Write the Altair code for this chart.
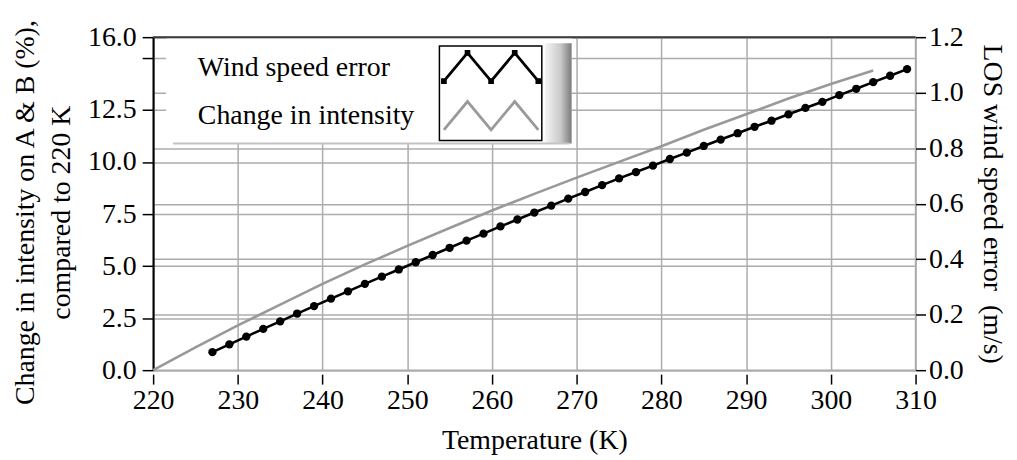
import altair as alt
import pandas as pd

# ---------------- data ----------------
temp_intensity = [220, 225, 230, 235, 240, 245, 250, 255, 260, 265, 270, 275, 280, 285, 290, 295, 300, 305]
intensity_change = [0.0, 1.1, 2.15, 3.15, 4.15, 5.08, 5.97, 6.83, 7.67, 8.47, 9.25, 10.01, 10.76, 11.55, 12.3, 13.05, 13.75, 14.4]

temp_wind = [227, 229, 231, 233, 235, 237, 239, 241, 243, 245, 247, 249, 251, 253,
             255, 257, 259, 261, 263, 265, 267, 269, 271, 273, 275, 277, 279, 281,
             283, 285, 287, 289, 291, 293, 295, 297, 299, 301, 303, 305, 307, 309]
wind_error = [0.065, 0.093, 0.121, 0.149, 0.176, 0.204, 0.231, 0.258, 0.284, 0.311, 0.337, 0.363, 0.389, 0.415,
              0.441, 0.467, 0.492, 0.518, 0.543, 0.568, 0.593, 0.618, 0.642, 0.667, 0.691, 0.714, 0.737, 0.761,
              0.784, 0.808, 0.831, 0.854, 0.877, 0.899, 0.922, 0.945, 0.967, 0.991, 1.014, 1.038, 1.061, 1.085]

x_ticks = [220, 230, 240, 250, 260, 270, 280, 290, 300, 310]
left_ticks = [0, 2.5, 5, 7.5, 10, 12.5, 15, 16]
right_ticks = [0, 0.2, 0.4, 0.6, 0.8, 1.0, 1.2]
legend_labels = ["Wind speed error", "Change in intensity"]

x_title = "Temperature (K)"
left_title = ["Change in intensity on A & B (%),", "compared to 220 K"]
right_title = "LOS wind speed error\u00a0 (m/s)"

# ---------------- styling ----------------
W, H = 767, 335
FONT = "Liberation Serif"
FS = 28
GRID = "#acacac"

df_int = pd.DataFrame({"T": temp_intensity, "I": intensity_change})
df_wind = pd.DataFrame({"T": temp_wind, "E": wind_error})
one = pd.DataFrame({"k": [0]})

x_scale = alt.Scale(domain=[220, 310], nice=False, zero=False)
x_axis = alt.Axis(values=x_ticks, offset=4, domain=False, tickSize=10, tickColor="black",
                  tickWidth=1.5, labelPadding=3, labelFlush=False, labelOverlap=False,
                  format="d", grid=True, gridColor=GRID, gridWidth=1.5,
                  title=x_title, titlePadding=12)

gray_line = alt.Chart(df_int).mark_line(color="#999999", strokeWidth=2.6).encode(
    x=alt.X("T:Q", scale=x_scale, axis=x_axis),
    y=alt.Y("I:Q", scale=alt.Scale(domain=[0, 16], nice=False, zero=True),
            axis=alt.Axis(orient="left", values=left_ticks,
                          labelExpr="datum.value == 15 ? '' : format(datum.value, '.1f')",
                          domain=True, domainColor="black", domainWidth=2,
                          tickSize=11, tickColor="black", tickWidth=1.5,
                          labelPadding=6, labelFlush=False, labelOverlap=False,
                          grid=True, gridColor=GRID, gridWidth=1.5,
                          title=left_title, titlePadding=12, titleLineHeight=36,
                          titleY=176)),
)

black_line = alt.Chart(df_wind).mark_line(
    color="black", strokeWidth=2.6,
    point=alt.OverlayMarkDef(filled=True, size=70, color="black", opacity=1),
).encode(
    x=alt.X("T:Q", scale=x_scale, axis=x_axis),
    y=alt.Y("E:Q", scale=alt.Scale(domain=[0, 1.2], nice=False, zero=True),
            axis=alt.Axis(orient="right", values=right_ticks, format=".1f",
                          domain=False, tickSize=10, tickColor="black", tickWidth=1.5,
                          labelPadding=3, labelFlush=False, labelOverlap=False,
                          grid=True, gridColor=GRID, gridWidth=1.5,
                          title=right_title, titlePadding=14)),
)

# ---------------- in-plot legend box (decoration) ----------------
legend_bg = alt.Chart(one).mark_rect(fill="white", strokeWidth=0).encode(
    x=alt.value(13), x2=alt.value(421), y=alt.value(1), y2=alt.value(107))

legend_shade = alt.Chart(one).mark_rect(
    strokeWidth=0,
    fill=alt.Gradient(gradient="linear",
                      stops=[alt.GradientStop(color="#f6f6f6", offset=0),
                             alt.GradientStop(color="#c8c8c8", offset=0.6),
                             alt.GradientStop(color="#7a7a7a", offset=1)],
                      x1=0, x2=1, y1=0, y2=0),
).encode(x=alt.value(394), x2=alt.value(421), y=alt.value(6), y2=alt.value(107))

legend_shadow = alt.Chart(one).mark_rule(color="#c4c4c4", strokeWidth=2).encode(
    x=alt.value(20), x2=alt.value(419), y=alt.value(107))

sample_frame = alt.Chart(one).mark_rect(fill="white", stroke="black", strokeWidth=1.5).encode(
    x=alt.value(288), x2=alt.value(391), y=alt.value(9), y2=alt.value(104))

zig = "M-1,0.3L-0.5,-0.3L0,0.3L0.5,-0.3L1,0.3"
sq = ""
for vx, vy in [(-1, 0.3), (-0.5, -0.3), (0, 0.3), (0.5, -0.3), (1, 0.3)]:
    sq += f"M{vx-0.06},{vy-0.06}h0.12v0.12h-0.12Z"

sample_black = alt.Chart(one).mark_point(shape=zig, size=9025, filled=False, stroke="black",
                                         strokeWidth=2.8, opacity=1).encode(
    x=alt.value(340), y=alt.value(30))
sample_black_sq = alt.Chart(one).mark_point(shape=sq, size=9025, filled=True, fill="black",
                                            strokeWidth=0, opacity=1).encode(
    x=alt.value(340), y=alt.value(30))
sample_gray = alt.Chart(one).mark_point(shape=zig, size=9025, filled=False, stroke="#9a9a9a",
                                        strokeWidth=2.8, opacity=1).encode(
    x=alt.value(340), y=alt.value(79))

label1 = alt.Chart(one).mark_text(text=legend_labels[0], font=FONT, fontSize=FS, align="left",
                                  baseline="alphabetic", color="black").encode(
    x=alt.value(45), y=alt.value(39))
label2 = alt.Chart(one).mark_text(text=legend_labels[1], font=FONT, fontSize=FS, align="left",
                                  baseline="alphabetic", color="black").encode(
    x=alt.value(45), y=alt.value(87))

top_border = alt.Chart(one).mark_rule(color="#3c3c3c", strokeWidth=2).encode(
    x=alt.value(0), x2=alt.value(W), y=alt.value(0))

chart = alt.layer(
    gray_line, black_line,
    legend_bg, legend_shade, legend_shadow, sample_frame,
    sample_black, sample_black_sq, sample_gray, label1, label2, top_border,
).resolve_scale(y="independent").properties(
    width=W, height=H,
    padding={"left": 146, "top": 28, "right": 94, "bottom": 86},
    autosize=alt.AutoSizeParams(type="none"),
    background="white",
).configure_axis(
    labelFont=FONT, labelFontSize=FS, labelColor="black",
    titleFont=FONT, titleFontSize=FS, titleColor="black", titleFontWeight="normal",
).configure_view(stroke="#a8a8a8", strokeWidth=1.5)

chart.save("out.html", embed_options={"renderer": "svg", "actions": False})
